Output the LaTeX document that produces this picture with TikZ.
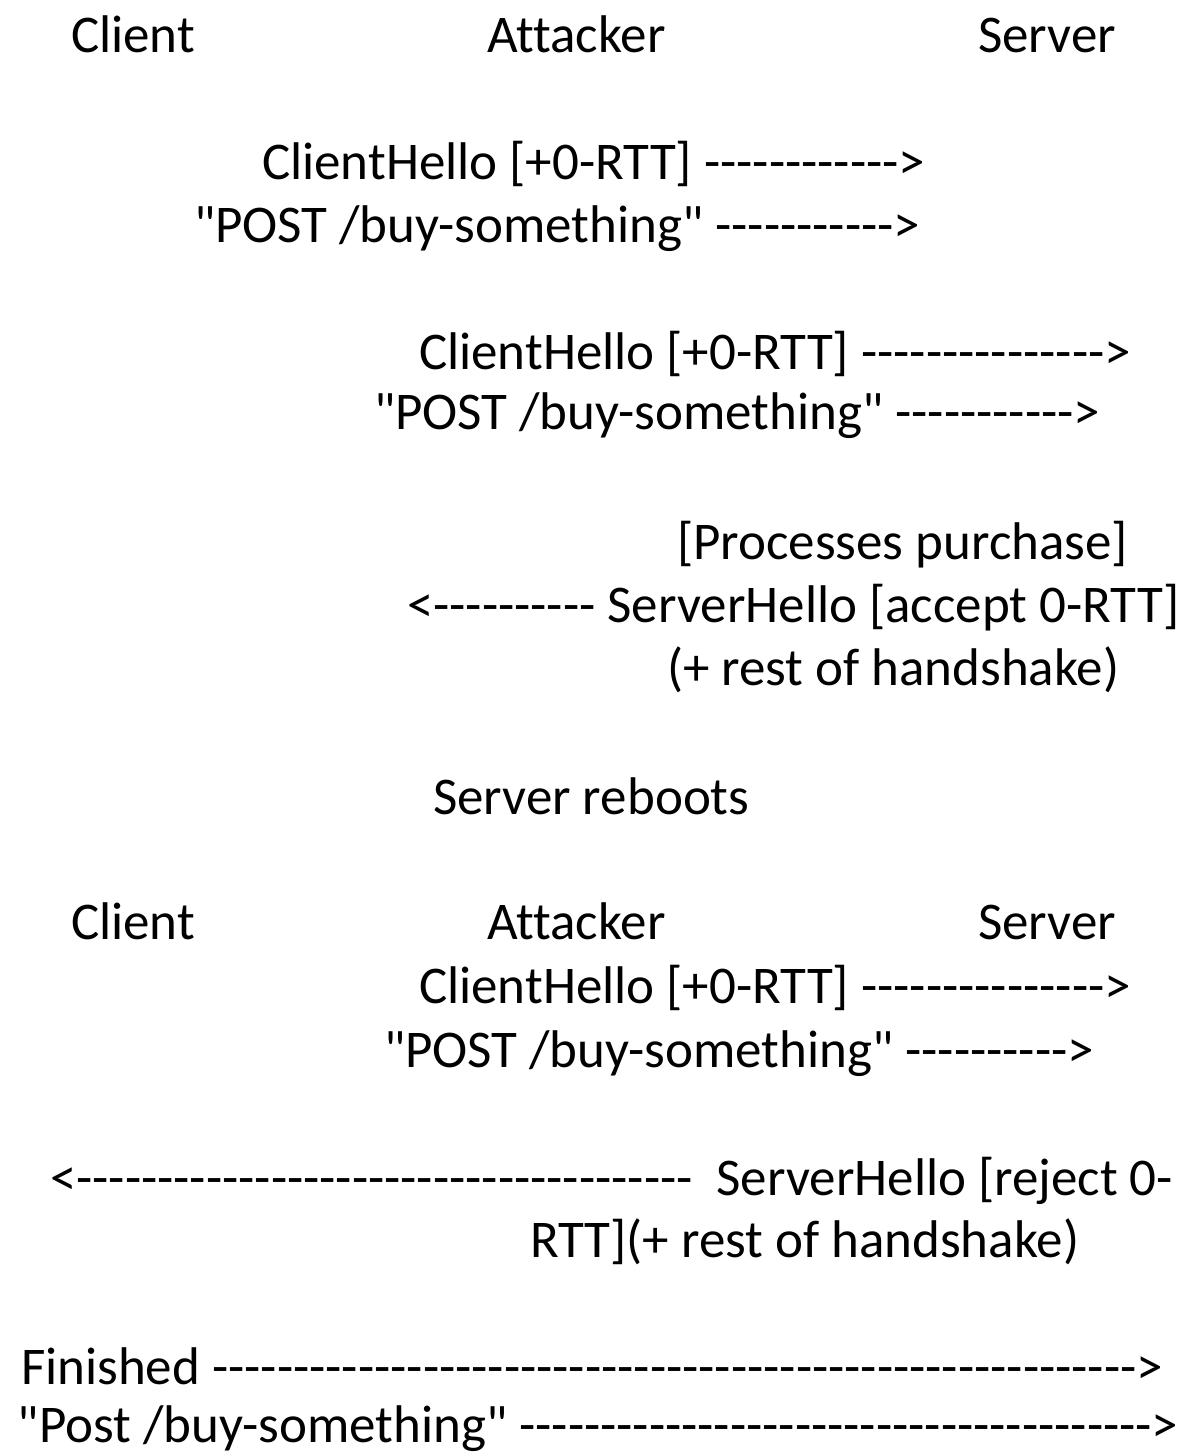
\documentclass[tikz,border=0pt]{standalone}
\usepackage{fontspec}
% Carlito without TeX or common ligatures, so hyphen runs and "tt"/"fi" stay plain
\newfontfamily\msgfont{Carlito}[Ligatures=NoCommon]
\ExplSyntaxOn
\NewDocumentCommand\dashrun{m}{\prg_replicate:nn{#1}{-}}
\ExplSyntaxOff
\tikzset{
  msg/.style={anchor=base west, inner sep=0pt, outer sep=0pt,
    font=\msgfont\fontsize{26.5}{32}\selectfont, text=black},
}
\begin{document}
\begin{tikzpicture}[x=0.5pt,y=-0.5pt]
  \fill[white] (0,0) rectangle (1180,1453);
  \useasboundingbox (0,0) rectangle (1180,1453);

  % first exchange: parties
  \node[msg] (client1)   at (71,52)  {Client};
  \node[msg] (attacker1) at (487,52) {Attacker};
  \node[msg] (server1)   at (978,52) {Server};

  % client sends 0-RTT request, captured by the attacker
  \node[msg] (ch1)   at (262,179) {ClientHello [+0-RTT] \dashrun{12}>};
  \node[msg] (post1) at (194,242) {"POST /buy-something" \dashrun{11}>};

  % attacker forwards it to the server
  \node[msg] (ch2)   at (419,369) {ClientHello [+0-RTT] \dashrun{15}>};
  \node[msg] (post2) at (374,429) {"POST /buy-something" \dashrun{11}>};

  \node[msg] (proc)   at (677,559) {[Processes purchase]};
  \node[msg] (sh1)    at (407,622) {<\dashrun{10} ServerHello [accept 0-RTT]};
  \node[msg] (rest1)  at (667,685) {(+ rest of handshake)};

  \node[msg] (reboot) at (433,814) {Server reboots};

  % second exchange after the reboot
  \node[msg] (client2)   at (71,939)  {Client};
  \node[msg] (attacker2) at (487,939) {Attacker};
  \node[msg] (server2)   at (978,939) {Server};

  \node[msg] (ch3)   at (419,1003) {ClientHello [+0-RTT] \dashrun{15}>};
  \node[msg] (post3) at (384,1067) {"POST /buy-something" \dashrun{10}>};

  \node[msg] (sh2)   at (50,1195)  {<\dashrun{38} \ ServerHello [reject 0-};
  \node[msg] (rest2) at (530,1257) {RTT](+ rest of handshake)};

  \node[msg] (fin)   at (21,1384)  {Finished \dashrun{57}>};
  \node[msg] (post4) at (18,1442)  {"Post /buy-something" \dashrun{39}>};
\end{tikzpicture}
\end{document}
